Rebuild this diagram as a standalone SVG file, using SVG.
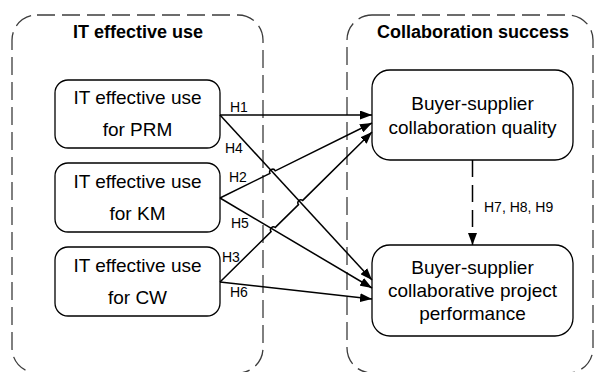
<svg xmlns="http://www.w3.org/2000/svg" width="595" height="372" viewBox="0 0 595 372">
<style>
.container{fill:none;stroke:#3c3c3c;stroke-width:1.3;stroke-dasharray:18 7}
.node{fill:#fff;stroke:#000;stroke-width:1.3}
.title{font-family:"Liberation Sans",Arial,sans-serif;font-weight:bold;font-size:18px;text-anchor:middle;fill:#000}
.lbl{font-family:"Liberation Sans",Arial,sans-serif;font-size:19px;text-anchor:middle;fill:#000}
.h{font-family:"Liberation Sans",Arial,sans-serif;font-size:14px;fill:#000}
.edge{fill:none;stroke:#000;stroke-width:1.5}
</style>
<defs>
<marker id="arr" markerUnits="userSpaceOnUse" markerWidth="12" markerHeight="9" refX="12" refY="4.5" orient="auto">
<path d="M0,0 L12,4.5 L0,9 z" fill="#000"/>
</marker>
</defs>
<rect width="595" height="372" fill="#fff"/>
<g id="group-it">
<rect class="container" x="12" y="15" width="251" height="358" rx="25" ry="25"/>
<text class="title" x="138" y="38">IT effective use</text>
</g>
<g id="group-collab">
<rect class="container" x="347" y="15" width="246" height="358" rx="25" ry="25"/>
<text class="title" x="473" y="38">Collaboration success</text>
</g>
<g id="node-prm">
<rect class="node" x="55" y="80" width="165" height="68" rx="13"/>
<text class="lbl" x="137.5" y="104">IT effective use</text>
<text class="lbl" x="137.5" y="136">for PRM</text>
</g>
<g id="node-km">
<rect class="node" x="55" y="163" width="165" height="69" rx="13"/>
<text class="lbl" x="137.5" y="188">IT effective use</text>
<text class="lbl" x="137.5" y="220">for KM</text>
</g>
<g id="node-cw">
<rect class="node" x="55" y="247" width="165" height="69" rx="13"/>
<text class="lbl" x="137.5" y="272">IT effective use</text>
<text class="lbl" x="137.5" y="304">for CW</text>
</g>
<g id="node-quality">
<rect class="node" x="372" y="70" width="201" height="90" rx="18"/>
<text class="lbl" x="472.5" y="110">Buyer-supplier</text>
<text class="lbl" x="472.5" y="134">collaboration quality</text>
</g>
<g id="node-performance">
<rect class="node" x="372" y="245" width="201" height="91" rx="18"/>
<text class="lbl" x="472.5" y="274">Buyer-supplier</text>
<text class="lbl" x="472.5" y="297">collaborative project</text>
<text class="lbl" x="472.5" y="320">performance</text>
</g>
<g id="connectors">
<path class="edge" marker-end="url(#arr)" d="M220,115 L372,115"/>
<path class="edge" marker-end="url(#arr)" d="M220,115 L372,280"/>
<path class="edge" marker-end="url(#arr)" d="M220,198 L269.9,173.4 A3,3 0 0 1 275.3,170.8 L372,123"/>
<path class="edge" marker-end="url(#arr)" d="M220,198 L372,288"/>
<path class="edge" marker-end="url(#arr)" d="M220,282 L271.1,231.6 A3,3 0 0 1 275.3,227.4 L298.5,204.6 A3,3 0 0 1 302.7,200.4 L372,132"/>
<path class="edge" marker-end="url(#arr)" d="M220,282 L372,299"/>
<path class="edge" marker-end="url(#arr)" stroke-dasharray="17 8" d="M472.5,160 L472.5,245"/>
<text class="h" x="230" y="112">H1</text>
<text class="h" x="225" y="153">H4</text>
<text class="h" x="229" y="182">H2</text>
<text class="h" x="231" y="228">H5</text>
<text class="h" x="222" y="262">H3</text>
<text class="h" x="230" y="297">H6</text>
<text class="h" x="484" y="212">H7, H8, H9</text>
</g>
</svg>
